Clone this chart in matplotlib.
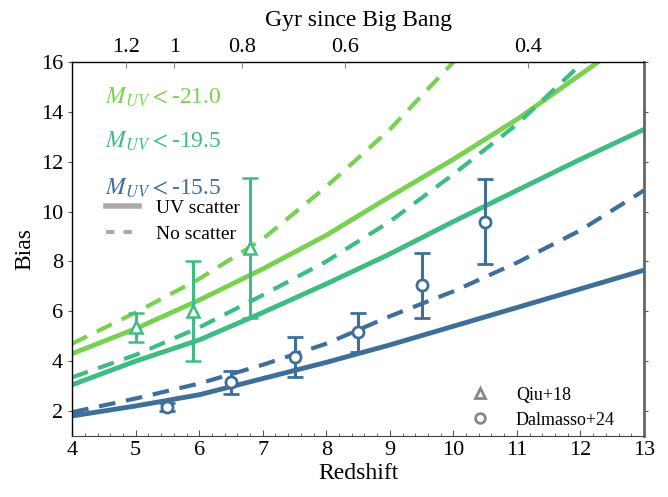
import matplotlib
matplotlib.use("Agg")
import matplotlib.pyplot as plt
from matplotlib.ticker import MultipleLocator
from matplotlib.lines import Line2D
import numpy as np

# bias vs redshift, three UV magnitude cuts
z_grid = [4, 5, 6, 7, 8, 9, 10, 11, 12, 13]

bias_21_scatter = [4.3, 5.3, 6.45, 7.7, 9.05, 10.6, 12.1, 13.7, 15.5, 17.3]
bias_21_noscat = [4.7, 5.95, 7.3, 8.9, 11.0, 13.3, 16.0, 18.8, 21.5, 24.0]
bias_195_scatter = [3.05, 4.0, 4.85, 5.95, 7.1, 8.3, 9.6, 10.85, 12.1, 13.3]
bias_195_noscat = [3.35, 4.25, 5.35, 6.65, 8.0, 9.6, 11.5, 13.5, 15.9, 18.2]
bias_155_scatter = [1.8, 2.2, 2.65, 3.3, 3.95, 4.65, 5.4, 6.15, 6.9, 7.65]
bias_155_noscat = [1.95, 2.5, 3.1, 3.85, 4.7, 5.8, 6.8, 7.95, 9.25, 10.85]

# Qiu+18
qiu_z = [5.0, 5.9, 6.8]
qiu_b = [5.35, 6.0, 8.55]
qiu_err = [0.6, 2.0, 2.8]

# Dalmasso+24
dal_z = [5.5, 6.5, 7.5, 8.5, 9.5, 10.5]
dal_b = [2.15, 3.15, 4.15, 5.15, 7.05, 9.6]
dal_err = [0.15, 0.45, 0.8, 0.8, 1.3, 1.7]

age_ticks = [1.2, 1.0, 0.8, 0.6, 0.4]
age_labels = ["1.2", "1", "0.8", "0.6", "0.4"]

c_21 = "#7ad151"
c_195 = "#3dbc83"
c_155 = "#3e6f9b"

plt.rcParams['font.family'] = ['Liberation Serif', 'DejaVu Serif']
plt.rcParams['mathtext.fontset'] = 'stix'


def z_from_age(t, H0=70.0, Om=0.3):
    # flat LCDM age -> redshift, for the top axis ticks
    OL = 1 - Om
    th = 977.8 / H0
    pref = 2.0 / (3.0 * np.sqrt(OL)) * th
    x = np.sinh(np.asarray(t) / pref) / np.sqrt(OL / Om)
    return x ** (-2.0 / 3.0) - 1


fig = plt.figure(figsize=(6.68, 4.97), dpi=100)
ax = fig.add_axes([0.108, 0.123, 0.856, 0.752])

dash = (0, (4, 2.6))
ax.plot(z_grid, bias_21_scatter, color=c_21, lw=3.5)
ax.plot(z_grid, bias_21_noscat, color=c_21, lw=3, ls=dash)
ax.plot(z_grid, bias_195_scatter, color=c_195, lw=3.5)
ax.plot(z_grid, bias_195_noscat, color=c_195, lw=3, ls=dash)
ax.plot(z_grid, bias_155_scatter, color=c_155, lw=3.5)
ax.plot(z_grid, bias_155_noscat, color=c_155, lw=3, ls=dash)

ax.errorbar(qiu_z, qiu_b, yerr=qiu_err, fmt='^', color=c_195, mfc='white',
            mec=c_195, mew=1.8, ms=8, elinewidth=2.2, capsize=6, capthick=2.2)
ax.errorbar(dal_z, dal_b, yerr=dal_err, fmt='o', color=c_155, mfc='white',
            mec=c_155, mew=2, ms=8, elinewidth=2.2, capsize=6, capthick=2.2)

ax.set_xlim(4, 13)
ax.set_ylim(1, 16)
ax.set_xticks(range(4, 14))
ax.set_yticks([2, 4, 6, 8, 10, 12, 14, 16])
ax.xaxis.set_minor_locator(MultipleLocator(0.2))
ax.tick_params(axis='x', which='major', direction='in', length=4, labelsize=16, color='#555555')
ax.tick_params(axis='x', which='minor', direction='in', length=2, color='#555555')
ax.tick_params(axis='y', which='major', direction='out', length=3, labelsize=16,
               right=True, color='#555555')
for s in ['left', 'top']:
    ax.spines[s].set_color('black')
    ax.spines[s].set_linewidth(1.0)
ax.spines['bottom'].set_color('#444444')
ax.spines['right'].set_color('#666666')
ax.spines['right'].set_linewidth(2.0)

ax.set_xlabel("Redshift", fontsize=17, labelpad=2)
ax.set_ylabel("Bias", fontsize=17, labelpad=4)

# top axis: cosmic age
top = ax.twiny()
top.set_xlim(4, 13)
top.set_xticks(z_from_age(age_ticks))
top.set_xticklabels(age_labels)
top.tick_params(axis='x', direction='in', length=4, labelsize=16, color='#888888', pad=4)
top.set_xlabel("Gyr since Big Bang", fontsize=17, labelpad=8)
for s in top.spines.values():
    s.set_visible(False)

# colour labels
ax.text(0.057, 0.89, r"$M_{UV}<$-21.0", color=c_21, fontsize=17, transform=ax.transAxes)
ax.text(0.057, 0.77, r"$M_{UV}<$-19.5", color=c_195, fontsize=17, transform=ax.transAxes)
ax.text(0.057, 0.645, r"$M_{UV}<$-15.5", color=c_155, fontsize=17, transform=ax.transAxes)

h1 = [Line2D([], [], color='#aaaaaa', lw=4),
      Line2D([], [], color='#aaaaaa', lw=3, ls=(0, (2, 2.2)))]
leg1 = ax.legend(h1, ["UV scatter", "No scatter"], loc='upper left',
                 bbox_to_anchor=(0.028, 0.68), frameon=False, fontsize=14,
                 handlelength=1.7, handletextpad=0.9, labelspacing=0.45)
ax.add_artist(leg1)
h2 = [Line2D([], [], ls='none', marker='^', mfc='white', mec='#888888', mew=2, ms=7),
      Line2D([], [], ls='none', marker='o', mfc='white', mec='#888888', mew=2, ms=7)]
ax.legend(h2, ["Qiu+18", "Dalmasso+24"], loc='lower right', frameon=False,
          fontsize=13, handletextpad=1.0, labelspacing=0.45, borderaxespad=0,
          bbox_to_anchor=(0.962, 0.0))

fig.savefig("out.png", dpi=100)
